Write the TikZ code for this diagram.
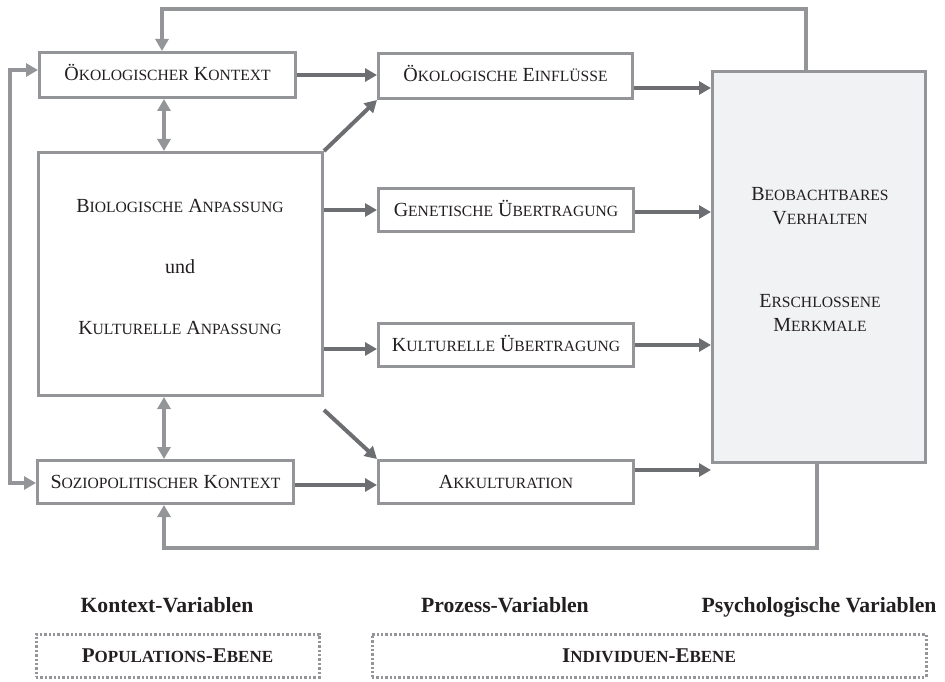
\documentclass[tikz,border=0pt]{standalone}
\usepackage{fontspec}
\setmainfont{Liberation Serif}
\usetikzlibrary{arrows.meta,calc}
\definecolor{boxgray}{HTML}{939598}
\definecolor{arrgray}{HTML}{6D6E71}
\definecolor{panel}{HTML}{F1F2F4}
\definecolor{ink}{HTML}{231F20}
% fake small caps: first letter full size, the rest as smaller capitals
\newcommand\smc[2]{#1{\fontsize{15.6pt}{18pt}\selectfont #2}}
\newcommand\bsmc[2]{#1{\fontsize{17pt}{20pt}\selectfont #2}}

\begin{document}
\begin{tikzpicture}[x=1pt,y=-1pt,
  box/.style={draw=boxgray, line width=3pt, fill=white, inner sep=0pt,
    text height=12pt, text depth=0pt, align=center, text=ink,
    font=\fontsize{20pt}{24pt}\selectfont},
  label/.style={anchor=base, inner sep=0pt, text=ink,
    font=\fontsize{20pt}{24pt}\selectfont},
  heading/.style={anchor=base, inner sep=0pt, text=ink,
    font=\bfseries\fontsize{21.7pt}{26pt}\selectfont},
  levelbox/.style={draw=boxgray, line width=3pt, dash pattern=on 2.4pt off 2pt,
    inner sep=0pt, text height=14pt, text depth=0pt, text=ink,
    font=\bfseries\fontsize{21pt}{24pt}\selectfont},
  fwd/.style={draw=arrgray, line width=4pt, -{Triangle[length=12pt,width=13pt]}},
  feedback/.style={draw=boxgray, line width=3.5pt, -{Triangle[length=12pt,width=13pt]}},
  twoway/.style={draw=boxgray, line width=3.5pt,
    {Triangle[length=12pt,width=13pt]}-{Triangle[length=12pt,width=13pt]}},
]
\useasboundingbox (0,0) rectangle (945,682);

% context, process and psychological boxes
\node[box, minimum width=256pt, minimum height=45pt] (oek) at (167.5,75)
  {\smc{Ö}{KOLOGISCHER} \smc{K}{ONTEXT}};
\node[box, minimum width=254pt, minimum height=45pt] (oekE) at (505.5,76)
  {\smc{Ö}{KOLOGISCHE} \smc{E}{INFLÜSSE}};
\node[box, minimum width=284pt, minimum height=243pt] (bio) at (180.5,274) {};
\node[box, minimum width=255pt, minimum height=43pt] (gen) at (506,210)
  {\smc{G}{ENETISCHE} \smc{Ü}{BERTRAGUNG}};
\node[box, minimum width=255pt, minimum height=43pt] (kul) at (506,345)
  {\smc{K}{ULTURELLE} \smc{Ü}{BERTRAGUNG}};
\node[box, minimum width=256pt, minimum height=43pt] (soz) at (165.5,482)
  {\smc{S}{OZIOPOLITISCHER} \smc{K}{ONTEXT}};
\node[box, minimum width=255pt, minimum height=43pt] (akk) at (506,482)
  {\smc{A}{KKULTURATION}};
\node[box, fill=panel, minimum width=213pt, minimum height=391pt] (psy) at (819,267) {};

% texts inside the large boxes
\node[label] (bioA) at (180,212) {\smc{B}{IOLOGISCHE} \smc{A}{NPASSUNG}};
\node[label] (bioB) at (180,273) {und};
\node[label] (bioC) at (180,334) {\smc{K}{ULTURELLE} \smc{A}{NPASSUNG}};
\node[label] (psyA) at (820,200) {\smc{B}{EOBACHTBARES}};
\node[label] (psyB) at (820,224) {\smc{V}{ERHALTEN}};
\node[label] (psyC) at (820,307) {\smc{E}{RSCHLOSSENE}};
\node[label] (psyD) at (820,331) {\smc{M}{ERKMALE}};

% helper coordinates for the connectors
\coordinate (vx) at (164,0);
\coordinate (lx) at (162,0);
\coordinate (lox) at (10,0);
\coordinate (fbx) at (806,0);
\coordinate (fbx2) at (817,0);
\coordinate (topy) at (0,9);
\coordinate (boty) at (0,548);
\coordinate (e1) at ($(oekE.east)+(0,12)$);
\coordinate (e2) at ($(gen.east)+(0,2)$);
\coordinate (e4) at ($(akk.east)+(0,-12)$);
\coordinate (k1) at ($(kul.west)+(0,4)$);
\coordinate (s1) at ($(soz.east)+(0,3)$);
\coordinate (d1) at ($(bio.south east)+(0,13)$);
\coordinate (la) at ($(oek.west)+(0,-5)$);
\coordinate (lb) at ($(soz.west)+(0,1)$);

% forward arrows
\draw[fwd] (oek.east) -- (oek.east -| oekE.west);
\draw[fwd] (bio.north east) -- (oekE.south west);
\draw[fwd] (bio.east |- gen.west) -- (gen.west);
\draw[fwd] (bio.east |- k1) -- (k1);
\draw[fwd] (d1) -- (akk.north west);
\draw[fwd] (s1) -- (s1 -| akk.west);
\draw[fwd] (e1) -- (e1 -| psy.west);
\draw[fwd] (e2) -- (e2 -| psy.west);
\draw[fwd] (kul.east) -- (kul.east -| psy.west);
\draw[fwd] (e4) -- (e4 -| psy.west);

% mutual influences
\draw[twoway] (oek.south -| vx) -- (bio.north -| vx);
\draw[twoway] (bio.south -| vx) -- (soz.north -| vx);
\draw[twoway] (la) -- (lox |- la) -- (lox |- lb) -- (lb);

% feedback loops
\draw[feedback] (psy.north -| fbx) -- (fbx |- topy) -- (lx |- topy) -- (lx |- oek.north);
\draw[feedback] (psy.south -| fbx2) -- (fbx2 |- boty) -- (vx |- boty) -- (vx |- soz.south);

% column headings
\node[heading] (hk) at (167,612) {Kontext-Variablen};
\node[heading] (hp) at (505,612) {Prozess-Variablen};
\node[heading] (hs) at (819,612) {Psychologische Variablen};

% levels
\node[levelbox, minimum width=283pt, minimum height=43pt] (pop) at (177.5,655.5)
  {\bsmc{P}{OPULATIONS}-\bsmc{E}{BENE}};
\node[levelbox, minimum width=554pt, minimum height=43pt] (ind) at (649,655.5)
  {\bsmc{I}{NDIVIDUEN}-\bsmc{E}{BENE}};
\end{tikzpicture}
\end{document}
